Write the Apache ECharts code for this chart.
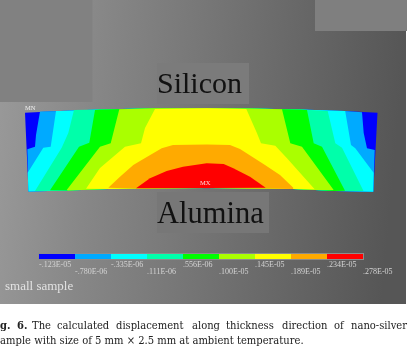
<!DOCTYPE html>
<html><head><meta charset="utf-8">
<style>html,body{margin:0;padding:0;background:#fff}#c{width:414px;height:355px}</style>
<script src="https://cdn.jsdelivr.net/npm/echarts@6/dist/echarts.min.js"></script>
</head><body><div id="c"></div>
<script>
// Displacement levels on the colour key
const levelLabels = ['-.123E-05','-.780E-06','-.335E-06','.111E-06','.556E-06','.100E-05','.145E-05','.189E-05','.234E-05','.278E-05'];
const bandColors = ['#0000ff','#00aaff','#00ffff','#00ffaa','#00ff00','#aaff00','#ffff00','#ffaa00','#ff0000'];
// Sample outline (x along sample, y through thickness)
const topEdge = [[0,79.3],[35,81],[75,82.5],[130,83.7],[182,83.7],[225,83.5],[275,82.5],[320,81],[352.5,79.3]];
const bottomEdge = [[3.5,0.5],[43,1.5],[83,3],[110,3.6],[182,4],[242,3.6],[268,3],[290,2],[309,1],[348.3,0.3]];
// Contour lines: left and right branch for each level (region above that level lies between them)
const contourLeft = [
  [[15,80.5],[11,57],[10,45.3],[2.3,42.7]],
  [[31,81],[25.7,45.3],[18.3,44.3],[2.7,19.3]],
  [[49,82],[43.3,59],[36.7,44.3],[10,1]],
  [[70,82],[64.3,49.3],[54,45.3],[25,1.7]],
  [[94.3,82.7],[85.7,48.7],[75,45.3],[41.7,2]],
  [[130,83],[120,64],[116,48.7],[100,45.3],[75,24],[61,3.3]],
  [[182,47.5],[148,47],[136.7,43.7],[116.7,32],[108.3,27],[95,15.3],[83.3,4.3]],
  [[181.7,28.7],[158,25.3],[141.7,21],[125,13.7],[111,3.7]]
];
const contourRight = [
  [[337,79.7],[338.7,59],[342,43.7],[349.7,42]],
  [[320.3,80.3],[326,47],[330.3,43.7],[348.6,19.3]],
  [[302.7,81],[310.3,48.7],[317,44.3],[338.5,1]],
  [[282,82],[288.7,48.7],[297,45.3],[320,1.3]],
  [[257,82.7],[265.3,48.7],[277,45.3],[308.7,2]],
  [[221.3,83],[232,58.7],[236,48.7],[250.3,46.3],[262,33.7],[289.7,2.7]],
  [[205,47],[215,43],[240,27],[255,17],[268.3,4.3]],
  [[198.7,28],[208.3,23.7],[225,15.3],[240.7,4.3]]
];
const captionWords = [['g.',0,true],['6.',17,true],['The',32],['calculated',57],['displacement',116],['along',192],['thickness',226],['direction',282],['of',334],['nano-silver',351]];
const captionLine2 = 'sample with size of 5 mm × 2.5 mm at ambient temperature.';

function regionFor(i){
  if(i===0) return topEdge.concat(bottomEdge.slice().reverse());
  const L = contourLeft[i-1], R = contourRight[i-1];
  const a = L[L.length-1][0], b = R[R.length-1][0];
  let pts = L.concat(bottomEdge.filter(p=>p[0]>a && p[0]<b), R.slice().reverse());
  if(L[0][1]>75) pts = pts.concat(topEdge.filter(p=>p[0]<R[0][0] && p[0]>L[0][0]).reverse());
  return pts;
}
const serifBig = 'Liberation Serif';
const capFont = '"DejaVu Serif Condensed","DejaVu Serif",serif';
const graphics = [
  {type:'rect',shape:{x:0,y:0,width:406,height:304},z:-10,style:{fill:{type:'linear',x:0,y:0,x2:1,y2:0.12,colorStops:[{offset:0,color:'#9a9a9a'},{offset:0.25,color:'#878787'},{offset:0.5,color:'#777777'},{offset:1,color:'#565656'}]}}},
  {type:'rect',shape:{x:0,y:0,width:92.5,height:102},z:-9,style:{fill:'#818181'}},
  {type:'rect',shape:{x:315,y:0,width:92,height:31},z:-9,style:{fill:'#7f7f7f'}},
  {type:'rect',shape:{x:157,y:63,width:92,height:41},z:-9,style:{fill:'#7b7b7b'}},
  {type:'rect',shape:{x:157,y:192,width:112,height:41},z:-9,style:{fill:'#777777'}},
  {type:'rect',shape:{x:38,y:253,width:326,height:7},z:-8,style:{fill:'#8c8c8c'}},
  {type:'text',x:157,y:100,z:5,style:{text:'Silicon',font:'30px "'+serifBig+'"',fill:'#111',verticalAlign:'bottom'}},
  {type:'text',x:157,y:230,z:5,style:{text:'Alumina',font:'30.5px "'+serifBig+'"',fill:'#111',verticalAlign:'bottom'}},
  {type:'text',x:5,y:287,z:5,style:{text:'small sample',font:'13px "'+serifBig+'"',fill:'#e2e2e2',verticalAlign:'middle'}},
  {type:'text',x:25,y:108,z:5,style:{text:'MN',font:'6.5px "'+serifBig+'"',fill:'#eee',verticalAlign:'middle'}},
  {type:'text',x:200,y:183.5,z:5,style:{text:'MX',font:'6.5px "'+serifBig+'"',fill:'#fdd',verticalAlign:'middle'}}
];
captionWords.forEach(w=>graphics.push({type:'text',x:w[1],y:326.5,z:5,style:{text:w[0],font:(w[2]?'bold ':'')+'11.1px '+capFont,fill:'#222',verticalAlign:'middle'}}));
graphics.push({type:'text',x:-5,y:341,z:5,style:{text:captionLine2,font:'11.1px '+capFont,fill:'#222',verticalAlign:'middle'}});

const chart = echarts.init(document.getElementById('c'),null,{renderer:'canvas'});
chart.setOption({
  animation:false,
  backgroundColor:'#fff',
  graphic:graphics,
  grid:[
    {left:25,top:108,width:353,height:84},
    {left:39,top:254,width:324,height:5}
  ],
  xAxis:[
    {type:'value',gridIndex:0,min:0,max:353,show:false},
    {type:'category',gridIndex:1,data:levelLabels,boundaryGap:false,
     axisLine:{show:false},axisTick:{show:false},
     axisLabel:{interval:0,margin:2,align:'left',fontSize:8,fontFamily:serifBig,color:'#d4d4d4',lineHeight:7.5,
       hideOverlap:false,showMinLabel:true,showMaxLabel:true,
       formatter:(v,i)=>i%2?'\n'+v:v}}
  ],
  yAxis:[
    {type:'value',gridIndex:0,min:0,max:84,show:false},
    {type:'value',gridIndex:1,min:0,max:1,show:false}
  ],
  series:[
    {type:'custom',xAxisIndex:0,yAxisIndex:0,clip:false,data:bandColors.map((c,i)=>[i]),
     renderItem:(p,api)=>{
       const i=api.value(0);
       return {type:'polygon',shape:{points:regionFor(i).map(q=>api.coord(q))},style:{fill:bandColors[i]}};
     }},
    {type:'custom',xAxisIndex:1,yAxisIndex:1,clip:false,data:bandColors.map((c,i)=>[i]),
     renderItem:(p,api)=>{
       const i=api.value(0);
       const a=api.coord([i,0]),b=api.coord([i+1,1]);
       return {type:'rect',shape:{x:a[0],y:b[1],width:b[0]-a[0],height:a[1]-b[1]},style:{fill:bandColors[i]}};
     }}
  ]
});
</script></body></html>
